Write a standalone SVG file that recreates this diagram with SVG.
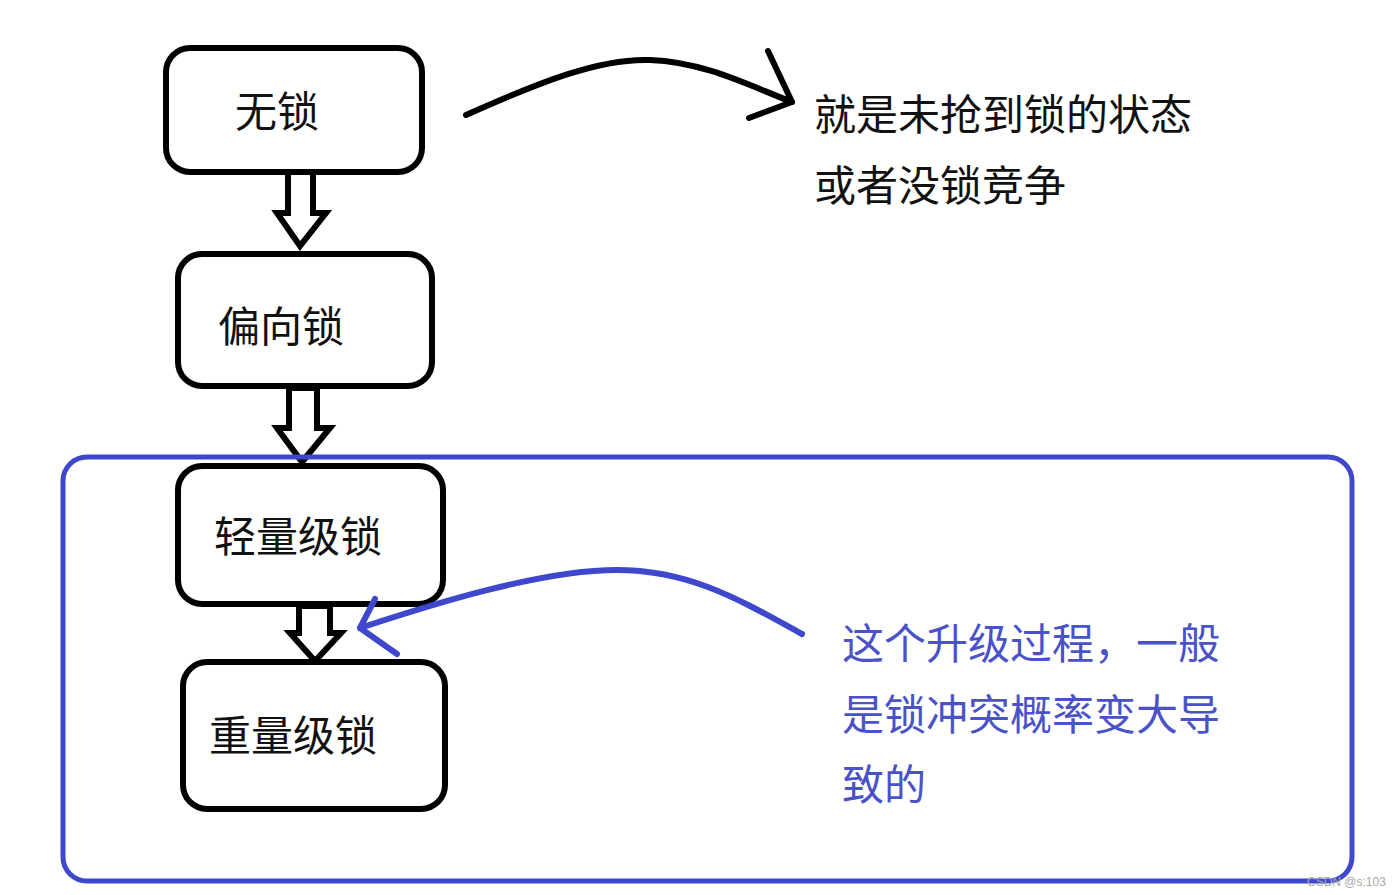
<svg xmlns="http://www.w3.org/2000/svg" width="1393" height="895" viewBox="0 0 1393 895">
<style>
.box{fill:#fff;stroke:#000;stroke-width:6}
.down{fill:#fff;stroke:#000;stroke-width:6;stroke-linejoin:miter}
.lbl{font-family:"Noto Sans CJK SC","Noto Sans",sans-serif;font-size:42px;fill:#111}
.note{font-family:"Noto Sans CJK SC","Noto Sans",sans-serif;font-size:42px;fill:#111}
.bnote{font-family:"Noto Sans CJK SC","Noto Sans",sans-serif;font-size:42px;fill:#4a52c8}
.curve{fill:none;stroke:#000;stroke-width:6;stroke-linecap:round;stroke-linejoin:round}
.bcurve{fill:none;stroke:#3f48cc;stroke-width:6;stroke-linecap:round;stroke-linejoin:round}
</style>
<rect width="1393" height="895" fill="#fff"/>
<g id="connectors">
<polygon class="down" points="288,172 288,213 277,213 300,246 326,213 313,213 313,172"/>
<polygon class="down" points="289,388 289,428 277,428 302,462 330,428 317,428 317,388"/>
<polygon class="down" points="299,606 299,633 290,633 315,661 341,633 330,633 330,606"/>
<path class="curve" d="M466,115 C540,82 600,58 650,60 C705,62 750,86 792,102"/>
<path class="curve" d="M768,51 L792,102 L749,118"/>
</g>
<g id="node-wusuo">
<rect class="box" x="166" y="48" width="256" height="124" rx="24"/>
<text class="lbl" x="235" y="127">无锁</text>
</g>
<g id="node-pianxiang">
<rect class="box" x="178" y="254" width="254" height="132" rx="24"/>
<text class="lbl" x="218" y="342">偏向锁</text>
</g>
<g id="node-qingliang">
<rect class="box" x="178" y="466" width="265" height="138" rx="24"/>
<text class="lbl" x="214" y="552">轻量级锁</text>
</g>
<g id="node-zhongliang">
<rect class="box" x="183" y="662" width="262" height="147" rx="24"/>
<text class="lbl" x="209" y="751">重量级锁</text>
</g>
<g id="group-upgrade">
<rect x="63" y="457" width="1289" height="424" rx="24" fill="none" stroke="#3f48cc" stroke-width="5"/>
</g>
<g id="blue-connector">
<path class="bcurve" d="M802,634 C740,600 690,570 617,570 C540,570 430,605 360,628"/>
<path class="bcurve" d="M375,599 L360,628 L397,654"/>
</g>
<g id="note-top">
<text class="note" x="814" y="130">就是未抢到锁的状态</text>
<text class="note" x="814" y="201">或者没锁竞争</text>
</g>
<g id="note-blue">
<text class="bnote" x="842" y="659">这个升级过程，一般</text>
<text class="bnote" x="842" y="730">是锁冲突概率变大导</text>
<text class="bnote" x="842" y="800">致的</text>
</g>
<text x="1307" y="886" font-family="Liberation Sans,sans-serif" font-size="12" fill="#a8a8a8">CSDN @s:103</text>
</svg>
